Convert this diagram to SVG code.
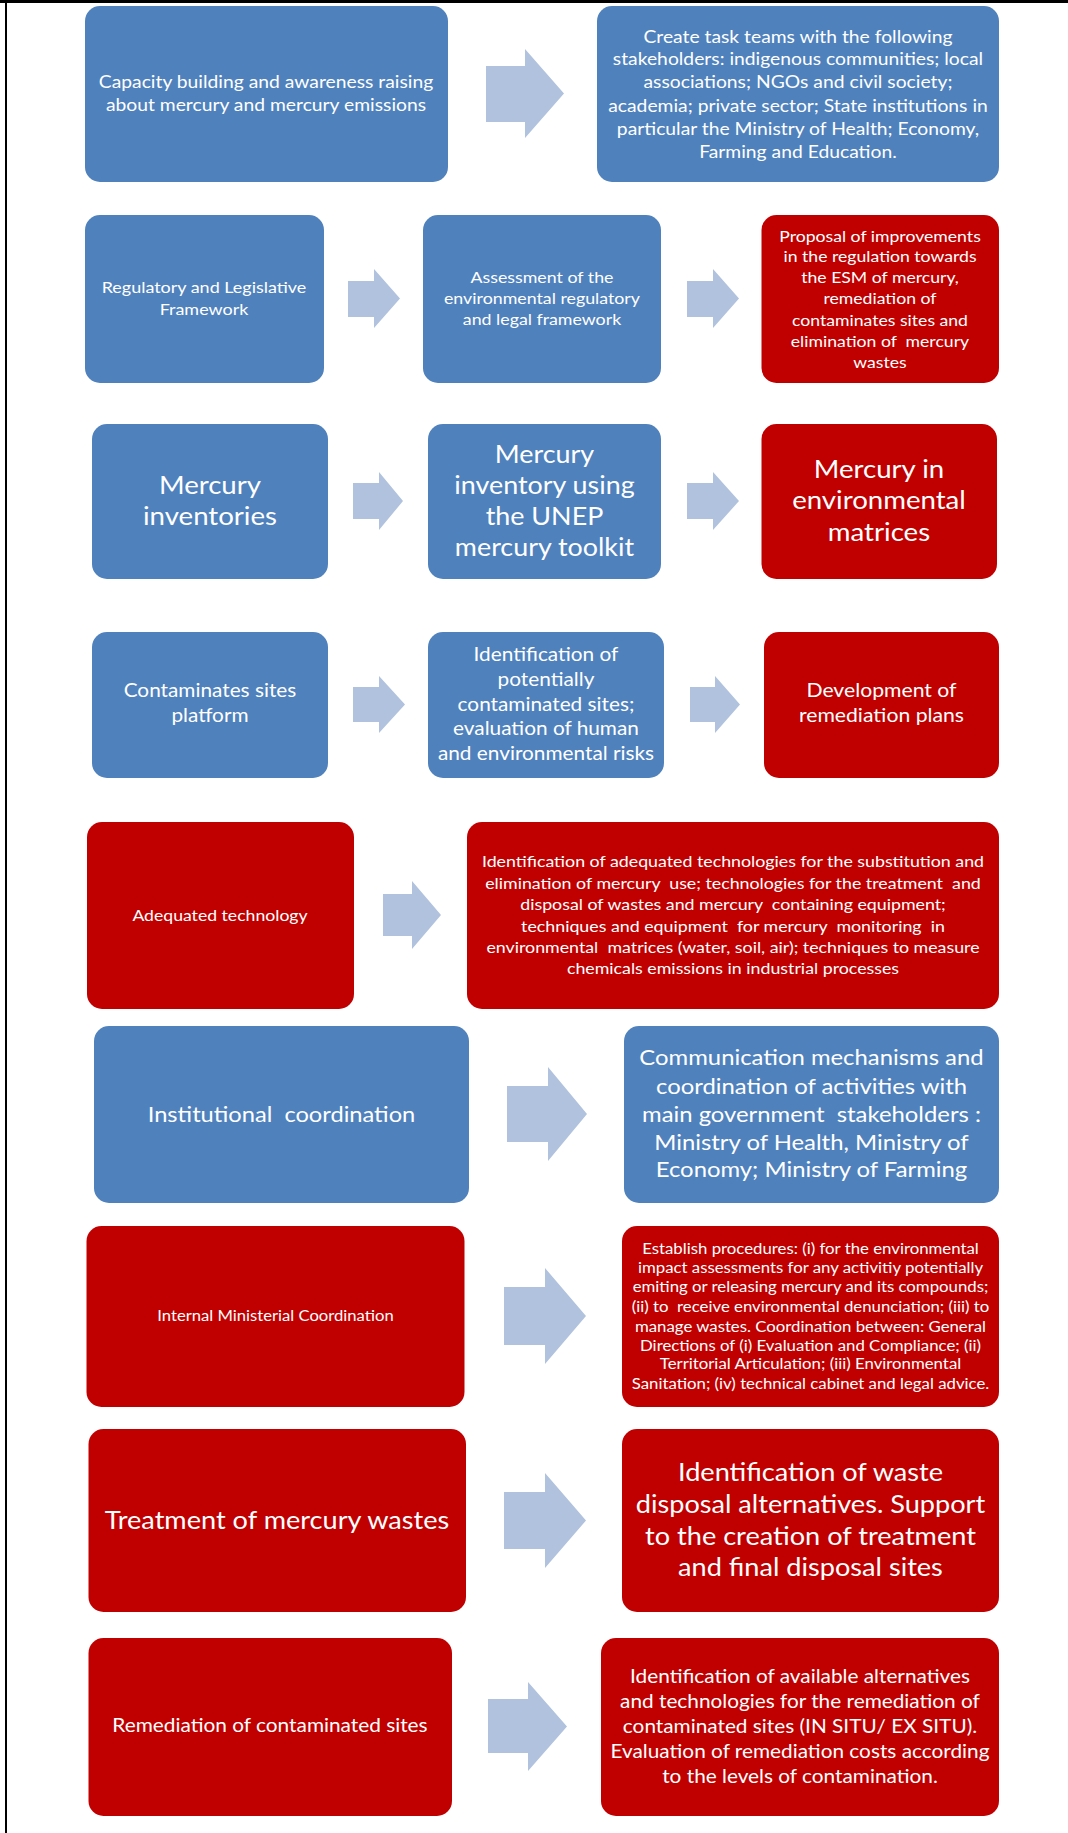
<svg xmlns="http://www.w3.org/2000/svg" width="1068" height="1833" viewBox="0 0 1068 1833">
<style>
.b{fill:#4F81BD}
.r{fill:#C00000}
.ar{fill:#B0C2DE}
.t{fill:#FFFFFF;font-family:Lato,"Liberation Sans",sans-serif;text-anchor:middle;white-space:pre}
</style>
<rect x="0" y="0" width="1068" height="1833" fill="#FFFFFF"/>
<rect x="0" y="0" width="1068" height="3" fill="#000000"/>
<rect x="5" y="0" width="2" height="1833" fill="#000000"/>

<g id="connectors">
<polygon class="ar" points="486,66 525,66 525,49 564,93.5 525,138 525,122 486,122"/>
<polygon class="ar" points="348,281 374,281 374,269 400,298.5 374,328 374,317 348,317"/>
<polygon class="ar" points="687,281 713,281 713,269 739,298.5 713,328 713,317 687,317"/>
<polygon class="ar" points="353,483 379,483 379,472 403,501 379,530 379,519 353,519"/>
<polygon class="ar" points="687,483 713,483 713,472 739,501 713,530 713,519 687,519"/>
<polygon class="ar" points="353,687 379,687 379,676 405,704.5 379,733 379,722 353,722"/>
<polygon class="ar" points="690,687 715,687 715,676 740,704.5 715,733 715,722 690,722"/>
<polygon class="ar" points="383,894 412,894 412,881 441,915 412,949 412,936 383,936"/>
<polygon class="ar" points="507,1086 548,1086 548,1067 587,1114 548,1161 548,1142 507,1142"/>
<polygon class="ar" points="504,1287 545,1287 545,1268 586,1316 545,1364 545,1345 504,1345"/>
<polygon class="ar" points="504,1492 545,1492 545,1473 586,1520.5 545,1568 545,1549 504,1549"/>
<polygon class="ar" points="488,1699 528,1699 528,1682 567,1726.5 528,1771 528,1753 488,1753"/>
</g>

<g id="n1">
<rect class="b" x="85" y="6" width="363" height="176" rx="15"/>
<text class="t" font-size="18.2" transform="matrix(1.06,0,0,1,-15.96,0)"><tspan x="266" y="88">Capacity building and awareness raising</tspan><tspan x="266" y="111">about mercury and mercury emissions</tspan></text>
</g>
<g id="n2">
<rect class="b" x="597" y="6" width="402" height="176" rx="15"/>
<text class="t" font-size="18.2" transform="matrix(1.06,0,0,1,-47.88,0)"><tspan x="798" y="43">Create task teams with the following</tspan><tspan x="798" y="65">stakeholders: indigenous communities; local</tspan><tspan x="798" y="88">associations; NGOs and civil society;</tspan><tspan x="798" y="112">academia; private sector; State institutions in</tspan><tspan x="798" y="135">particular the Ministry of Health; Economy,</tspan><tspan x="798" y="158">Farming and Education.</tspan></text>
</g>

<g id="n3">
<rect class="b" x="85" y="215" width="239" height="168" rx="15"/>
<text class="t" font-size="16.1" transform="matrix(1.115,0,0,1,-23.46,0)"><tspan x="204" y="293">Regulatory and Legislative</tspan><tspan x="204" y="315">Framework</tspan></text>
</g>
<g id="n4">
<rect class="b" x="423" y="215" width="238" height="168" rx="15"/>
<text class="t" font-size="16.1" transform="matrix(1.105,0,0,1,-56.91,0)"><tspan x="542" y="283">Assessment of the</tspan><tspan x="542" y="304">environmental regulatory</tspan><tspan x="542" y="325">and legal framework</tspan></text>
</g>
<g id="n5">
<rect class="r" x="761.5" y="215" width="237.5" height="168" rx="15"/>
<text class="t" font-size="16.1" transform="matrix(1.095,0,0,1,-83.6,0)"><tspan x="880" y="242">Proposal of improvements</tspan><tspan x="880" y="262">in the regulation towards</tspan><tspan x="880" y="283">the ESM of mercury,</tspan><tspan x="880" y="304">remediation of</tspan><tspan x="880" y="326">contaminates sites and</tspan><tspan x="880" y="347">elimination of  mercury</tspan><tspan x="880" y="368">wastes</tspan></text>
</g>

<g id="n6">
<rect class="b" x="92" y="424" width="236" height="155" rx="15"/>
<text class="t" font-size="25" transform="matrix(1.105,0,0,1,-22.05,0)"><tspan x="210" y="494">Mercury</tspan><tspan x="210" y="525">inventories</tspan></text>
</g>
<g id="n7">
<rect class="b" x="428" y="424" width="233" height="155" rx="15"/>
<text class="t" font-size="25" transform="matrix(1.075,0,0,1,-40.84,0)"><tspan x="544.5" y="463">Mercury</tspan><tspan x="544.5" y="494">inventory using</tspan><tspan x="544.5" y="525">the UNEP</tspan><tspan x="544.5" y="556">mercury toolkit</tspan></text>
</g>
<g id="n8">
<rect class="r" x="761.5" y="424" width="235.5" height="155" rx="15"/>
<text class="t" font-size="25" transform="matrix(1.105,0,0,1,-92.3,0)"><tspan x="879" y="478">Mercury in</tspan><tspan x="879" y="509">environmental</tspan><tspan x="879" y="541">matrices</tspan></text>
</g>

<g id="n9">
<rect class="b" x="92" y="632" width="236" height="146" rx="15"/>
<text class="t" font-size="19.8" transform="matrix(1.05,0,0,1,-10.5,0)"><tspan x="210" y="697">Contaminates sites</tspan><tspan x="210" y="722">platform</tspan></text>
</g>
<g id="n10">
<rect class="b" x="428" y="632" width="236" height="146" rx="15"/>
<text class="t" font-size="19.8" transform="matrix(1.05,0,0,1,-27.3,0)"><tspan x="546" y="661">Identification of</tspan><tspan x="546" y="686">potentially</tspan><tspan x="546" y="711">contaminated sites;</tspan><tspan x="546" y="735">evaluation of human</tspan><tspan x="546" y="760">and environmental risks</tspan></text>
</g>
<g id="n11">
<rect class="r" x="764" y="632" width="235" height="146" rx="15"/>
<text class="t" font-size="19.8" transform="matrix(1.07,0,0,1,-61.7,0)"><tspan x="881.5" y="697">Development of</tspan><tspan x="881.5" y="722">remediation plans</tspan></text>
</g>

<g id="n12">
<rect class="r" x="87" y="822" width="267" height="187" rx="15"/>
<text class="t" font-size="16.1" transform="matrix(1.095,0,0,1,-20.9,0)"><tspan x="220" y="921">Adequated technology</tspan></text>
</g>
<g id="n13">
<rect class="r" x="467" y="822" width="532" height="187" rx="15"/>
<text class="t" font-size="16.1" transform="matrix(1.105,0,0,1,-76.97,0)"><tspan x="733" y="867">Identification of adequated technologies for the substitution and</tspan><tspan x="733" y="889">elimination of mercury  use; technologies for the treatment  and</tspan><tspan x="733" y="910">disposal of wastes and mercury  containing equipment;</tspan><tspan x="733" y="932">techniques and equipment  for mercury  monitoring  in</tspan><tspan x="733" y="953">environmental  matrices (water, soil, air); techniques to measure</tspan><tspan x="733" y="974">chemicals emissions in industrial processes</tspan></text>
</g>

<g id="n14">
<rect class="b" x="94" y="1026" width="375" height="177" rx="15"/>
<text class="t" font-size="21.8" transform="matrix(1.085,0,0,1,-23.93,0)"><tspan x="281.5" y="1122">Institutional  coordination</tspan></text>
</g>
<g id="n15">
<rect class="b" x="624" y="1026" width="375" height="177" rx="15"/>
<text class="t" font-size="21.8" transform="matrix(1.095,0,0,1,-77.09,0)"><tspan x="811.5" y="1065">Communication mechanisms and</tspan><tspan x="811.5" y="1094">coordination of activities with</tspan><tspan x="811.5" y="1122">main government  stakeholders :</tspan><tspan x="811.5" y="1150">Ministry of Health, Ministry of</tspan><tspan x="811.5" y="1177">Economy; Ministry of Farming</tspan></text>
</g>

<g id="n16">
<rect class="r" x="86.5" y="1226" width="378" height="181" rx="15"/>
<text class="t" font-size="15" transform="matrix(1.11,0,0,1,-30.3,0)"><tspan x="275.5" y="1321">Internal Ministerial Coordination</tspan></text>
</g>
<g id="n17">
<rect class="r" x="622" y="1226" width="377" height="181" rx="15"/>
<text class="t" font-size="15" transform="matrix(1.12,0,0,1,-97.26,0)"><tspan x="810.5" y="1254">Establish procedures: (i) for the environmental</tspan><tspan x="810.5" y="1273">impact assessments for any activitiy potentially</tspan><tspan x="810.5" y="1292">emiting or releasing mercury and its compounds;</tspan><tspan x="810.5" y="1312">(ii) to  receive environmental denunciation; (iii) to</tspan><tspan x="810.5" y="1332">manage wastes. Coordination between: General</tspan><tspan x="810.5" y="1351">Directions of (i) Evaluation and Compliance; (ii)</tspan><tspan x="810.5" y="1369">Territorial Articulation; (iii) Environmental</tspan><tspan x="810.5" y="1389">Sanitation; (iv) technical cabinet and legal advice.</tspan></text>
</g>

<g id="n18">
<rect class="r" x="88.5" y="1429" width="377.5" height="183" rx="15"/>
<text class="t" font-size="25" transform="matrix(1.085,0,0,1,-23.55,0)"><tspan x="277" y="1529">Treatment of mercury wastes</tspan></text>
</g>
<g id="n19">
<rect class="r" x="622" y="1429" width="377" height="183" rx="15"/>
<text class="t" font-size="25" transform="matrix(1.085,0,0,1,-68.89,0)"><tspan x="810.5" y="1481">Identification of waste</tspan><tspan x="810.5" y="1513">disposal alternatives. Support</tspan><tspan x="810.5" y="1545">to the creation of treatment</tspan><tspan x="810.5" y="1576">and final disposal sites</tspan></text>
</g>

<g id="n20">
<rect class="r" x="88.5" y="1638" width="363.5" height="178" rx="15"/>
<text class="t" font-size="19.2" transform="matrix(1.085,0,0,1,-22.95,0)"><tspan x="270" y="1732">Remediation of contaminated sites</tspan></text>
</g>
<g id="n21">
<rect class="r" x="601" y="1638" width="398" height="178" rx="15"/>
<text class="t" font-size="19.8" transform="matrix(1.05,0,0,1,-40,0)"><tspan x="800" y="1683">Identification of available alternatives</tspan><tspan x="800" y="1708">and technologies for the remediation of</tspan><tspan x="800" y="1733">contaminated sites (IN SITU/ EX SITU).</tspan><tspan x="800" y="1758">Evaluation of remediation costs according</tspan><tspan x="800" y="1783">to the levels of contamination.</tspan></text>
</g>
</svg>
